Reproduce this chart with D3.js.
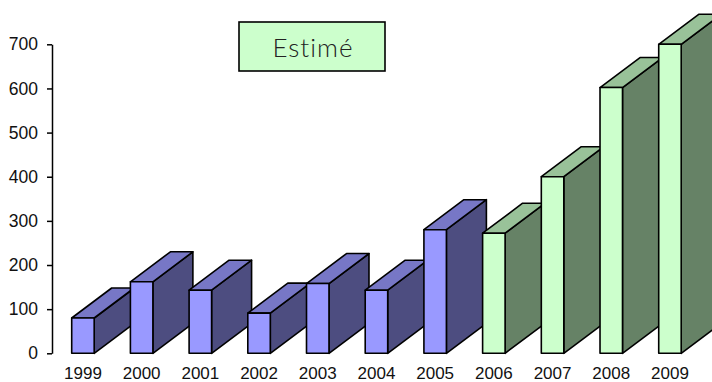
<!DOCTYPE html>
<html>
<head>
<meta charset="utf-8">
<script src="https://cdn.jsdelivr.net/npm/d3@7"></script>
<style>
  html, body { margin: 0; padding: 0; background: #fff; }
  svg { display: block; }
</style>
</head>
<body>
<svg id="chart" width="712" height="382"></svg>
<script>
// Yearly values; the last four years are estimates
const years = ["1999","2000","2001","2002","2003","2004","2005","2006","2007","2008","2009"];
const values = [80, 162, 143, 91, 158, 143, 280, 272, 400, 602, 700];
const estimated = [false, false, false, false, false, false, false, true, true, true, true];
const yTicks = [0, 100, 200, 300, 400, 500, 600, 700];
const boxLabel = "Estimé";

const svg = d3.select("#chart");
const sansFont = "Arial, 'Liberation Sans', Helvetica, sans-serif";

const x = d3.scaleBand()
  .domain(years)
  .range([71.7, 681.2])
  .paddingInner(0.617)
  .paddingOuter(0);

const y = d3.scaleLinear().domain([0, 700]).range([353.3, 44.3]);

// 3D extrusion offset (to the right and up)
const dx = 40, dy = -30;

const palette = {
  actual:   { front: "#9999FF", top: "#7777C6", side: "#4D4D80" },
  estimate: { front: "#CCFFCC", top: "#99C299", side: "#668266" }
};

// Y axis
const yAxis = d3.axisLeft(y).tickValues(yTicks).tickSize(5).tickSizeOuter(0).tickPadding(9);
const gy = svg.append("g").attr("transform", "translate(52,0)").call(yAxis);
gy.select(".domain").attr("stroke", "#000").attr("stroke-width", 1.5);
gy.selectAll(".tick line").attr("stroke", "#000").attr("stroke-width", 1.5);
gy.selectAll(".tick text")
  .attr("font-family", sansFont)
  .attr("font-size", 17.5)
  .attr("fill", "#111");

// Bars drawn left to right so each one overlaps the side of the previous
const data = years.map((yr, i) => ({ year: yr, value: values[i], est: estimated[i] }));
const bars = svg.append("g").selectAll("g.bar").data(data).join("g").attr("class", "bar");

bars.each(function(d) {
  const g = d3.select(this);
  const c = d.est ? palette.estimate : palette.actual;
  const x0 = x(d.year), x1 = x0 + x.bandwidth();
  const yt = y(d.value), yb = y(0);
  const pts = p => p.map(q => q.join(",")).join(" ");
  const style = sel => sel.attr("stroke", "#000").attr("stroke-width", 1.6).attr("stroke-linejoin", "round");
  // side face
  g.append("polygon")
    .attr("points", pts([[x1, yt], [x1 + dx, yt + dy], [x1 + dx, yb + dy], [x1, yb]]))
    .attr("fill", c.side).call(style);
  // top face
  g.append("polygon")
    .attr("points", pts([[x0, yt], [x0 + dx, yt + dy], [x1 + dx, yt + dy], [x1, yt]]))
    .attr("fill", c.top).call(style);
  // front face
  g.append("rect")
    .attr("x", x0).attr("y", yt)
    .attr("width", x1 - x0).attr("height", yb - yt)
    .attr("fill", c.front).call(style);
});

// X labels under each bar
svg.append("g").selectAll("text").data(years).join("text")
  .attr("x", d => x(d) + x.bandwidth() / 2)
  .attr("y", 379)
  .attr("text-anchor", "middle")
  .attr("font-family", sansFont)
  .attr("font-size", 17)
  .attr("fill", "#111")
  .text(d => d);

// Legend box for the estimated years
const box = svg.append("g");
box.append("rect")
  .attr("x", 239).attr("y", 22).attr("width", 146).attr("height", 49)
  .attr("fill", "#CCFFCC").attr("stroke", "#000").attr("stroke-width", 1.6);
box.append("text")
  .attr("x", 313).attr("y", 57)
  .attr("text-anchor", "middle")
  .attr("font-family", "Lato, 'Open Sans', sans-serif")
  .attr("font-weight", 300)
  .attr("font-size", 26)
  .attr("letter-spacing", 1)
  .attr("fill", "#222")
  .text(boxLabel);
</script>
</body>
</html>
